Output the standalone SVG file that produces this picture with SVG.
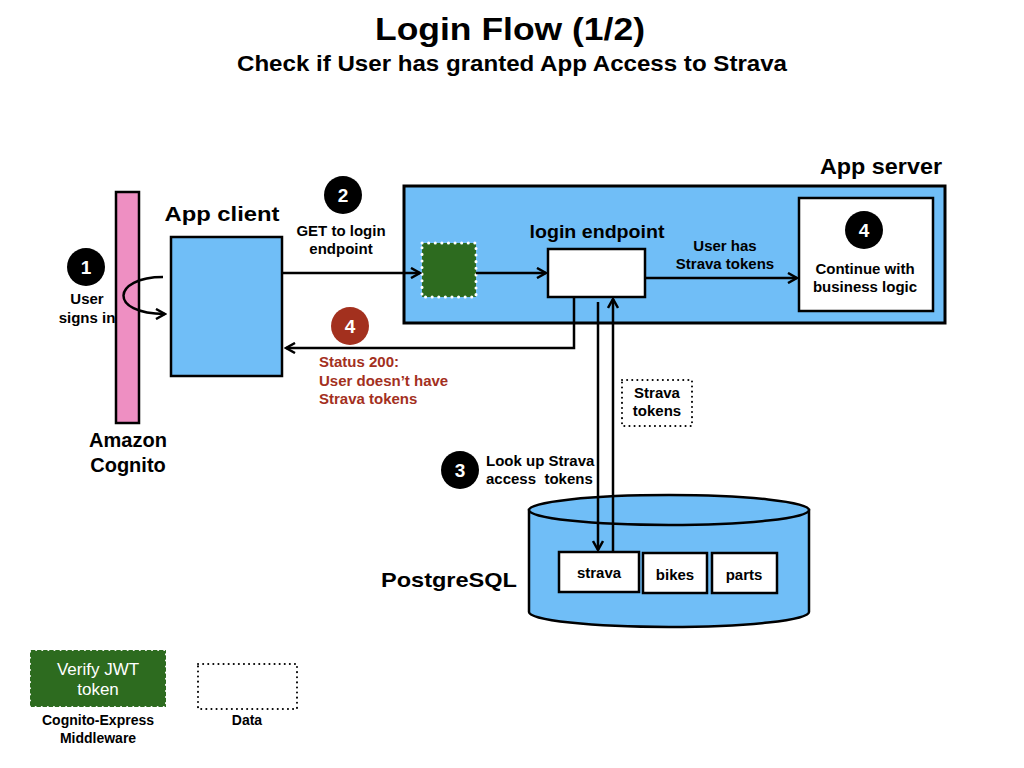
<svg xmlns="http://www.w3.org/2000/svg" width="1024" height="768" viewBox="0 0 1024 768">
<defs>
<style>
text{font-family:"Liberation Sans",Arial,sans-serif;font-weight:bold;fill:#000}
.t14{font-size:15px}
.t13{font-size:14px}
.lbl{font-size:20px}
.c{text-anchor:middle}
.box{stroke:#000;stroke-width:2.5}
.blue{fill:#70BEF7}
.white{fill:#fff}
.line{fill:none;stroke:#000;stroke-width:2.5}
.num{fill:#fff;font-size:19px;text-anchor:middle}
.red{fill:#A3301E}
.dot{fill:none;stroke:#000;stroke-width:2;stroke-dasharray:0.1 5;stroke-linecap:round}
</style>
<marker id="arr" viewBox="0 0 12 12" refX="10" refY="6" markerWidth="12" markerHeight="12" markerUnits="userSpaceOnUse" orient="auto">
<path d="M1,1 L10,6 L1,11" fill="none" stroke="#000" stroke-width="2.5"/>
</marker>
</defs>
<rect width="1024" height="768" fill="#fff"/>
<text x="510" y="40" class="c" style="font-size:32px" textLength="270" lengthAdjust="spacingAndGlyphs">Login Flow (1/2)</text>
<text x="512" y="71" class="c" style="font-size:22px" textLength="550" lengthAdjust="spacingAndGlyphs">Check if User has granted App Access to Strava</text>

<g id="cognito">
<rect x="116" y="192" width="23" height="231" fill="#EE8FC2" class="box"/>
<text x="128" y="447" class="c lbl">Amazon</text>
<text x="128" y="472" class="c lbl">Cognito</text>
</g>

<g id="app-client">
<rect x="171" y="237" width="111" height="139" class="box blue"/>
<text x="222" y="221" class="c" style="font-size:21px" textLength="115" lengthAdjust="spacingAndGlyphs">App client</text>
</g>

<g id="app-server">
<rect x="404" y="186" width="541" height="137" class="blue" stroke="#000" stroke-width="3"/>
<text x="942" y="174" text-anchor="end" style="font-size:22px" textLength="122" lengthAdjust="spacingAndGlyphs">App server</text>
</g>

<g id="jwt-middleware">
<rect x="422" y="243" width="54" height="54" fill="#2D6B1F"/>
<rect x="422" y="243" width="54" height="54" fill="none" stroke="#fff" stroke-width="3" stroke-dasharray="0.1 6.5" stroke-linecap="round"/>
</g>

<g id="login-endpoint">
<rect x="548" y="249" width="97" height="48" class="box white"/>
<text x="597" y="238" class="c" style="font-size:19px" textLength="135" lengthAdjust="spacingAndGlyphs">login endpoint</text>
</g>

<g id="continue">
<rect x="799" y="198" width="134" height="113" class="box white"/>
<circle cx="864" cy="230" r="19" fill="#000"/>
<text x="864" y="237" class="num">4</text>
<text x="865" y="274" class="c t14">Continue with</text>
<text x="865" y="292" class="c t14">business logic</text>
</g>

<g id="strava-tokens-data">
<rect x="622" y="380" width="70" height="46" class="dot"/>
<text x="657" y="398" class="c t14">Strava</text>
<text x="657" y="416" class="c t14">tokens</text>
</g>

<g id="postgres">
<path d="M529,510 L529,612 A140,15 0 0 0 809,612 L809,510 Z" class="blue" stroke="#000" stroke-width="2.5"/>
<ellipse cx="669" cy="510" rx="140" ry="15" class="blue" stroke="#000" stroke-width="2.5"/>
<text x="449" y="587" class="c" style="font-size:21px" textLength="136" lengthAdjust="spacingAndGlyphs">PostgreSQL</text>
<rect x="559" y="552" width="80" height="40" class="box white"/>
<text x="599" y="578" class="c t14">strava</text>
<rect x="643" y="553" width="64" height="40" class="box white"/>
<text x="675" y="580" class="c t14">bikes</text>
<rect x="712" y="553" width="65" height="40" class="box white"/>
<text x="744" y="580" class="c t14">parts</text>
</g>

<g id="connectors">
<path d="M163,277 C112,277 108,314 165,314" class="line" marker-end="url(#arr)"/>
<path d="M282,273 L420,273" class="line" marker-end="url(#arr)"/>
<path d="M476,273 L546,273" class="line" marker-end="url(#arr)"/>
<path d="M645,278 L797,278" class="line" marker-end="url(#arr)"/>
<path d="M574,297 L574,348 L286,348" class="line" marker-end="url(#arr)"/>
<path d="M598,302 L598,550" class="line" marker-end="url(#arr)"/>
<path d="M613,552 L613,299" class="line" marker-end="url(#arr)"/>
</g>

<g id="step-labels">
<circle cx="86" cy="267" r="19" fill="#000"/>
<text x="86" y="274" class="num">1</text>
<text x="87" y="304" class="c t14">User</text>
<text x="87" y="323" class="c t14">signs in</text>
<circle cx="343" cy="195" r="19" fill="#000"/>
<text x="343" y="202" class="num">2</text>
<text x="341" y="236" class="c t14">GET to login</text>
<text x="341" y="254" class="c t14">endpoint</text>
<text x="725" y="251" class="c t14">User has</text>
<text x="725" y="269" class="c t14">Strava tokens</text>
<circle cx="350" cy="326" r="19" fill="#A3301E"/>
<text x="350" y="333" class="num">4</text>
<text x="319" y="367" class="t14 red">Status 200:</text>
<text x="319" y="386" class="t14 red">User doesn’t have</text>
<text x="319" y="404" class="t14 red">Strava tokens</text>
<circle cx="460" cy="470" r="19" fill="#000"/>
<text x="460" y="477" class="num">3</text>
<text x="486" y="466" class="t14">Look up Strava</text>
<text x="486" y="484" class="t14" xml:space="preserve">access  tokens</text>
</g>

<g id="legend">
<rect x="30" y="650" width="136" height="57" fill="#2D6B1F"/>
<rect x="30" y="650" width="136" height="57" fill="none" stroke="#fff" stroke-width="2" stroke-dasharray="0.1 6" stroke-linecap="round"/>
<text x="98" y="675" class="c" style="font-size:17px;font-weight:normal;fill:#fff">Verify JWT</text>
<text x="98" y="695" class="c" style="font-size:17px;font-weight:normal;fill:#fff">token</text>
<text x="98" y="725" class="c t13">Cognito-Express</text>
<text x="98" y="743" class="c t13">Middleware</text>
<rect x="198" y="664" width="99" height="45" class="dot"/>
<text x="247" y="725" class="c t13">Data</text>
</g>
</svg>
